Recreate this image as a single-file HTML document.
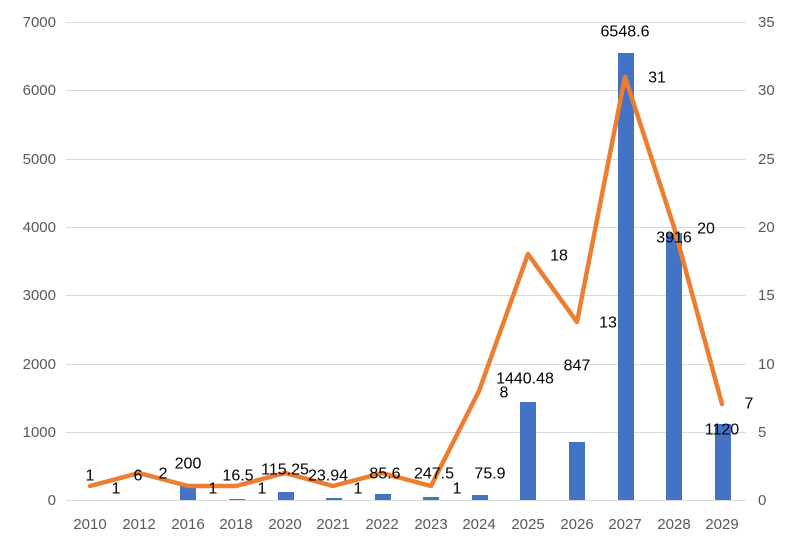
<!DOCTYPE html>
<html><head><meta charset="utf-8"><style>
body{margin:0;background:#fff}
svg text{font-family:"Liberation Sans",sans-serif}
</style></head><body>
<svg width="794" height="551" xmlns="http://www.w3.org/2000/svg">
<g stroke="#d9d9d9" stroke-width="1">
<line x1="66" x2="746" y1="500.5" y2="500.5"/>
<line x1="66" x2="746" y1="432.5" y2="432.5"/>
<line x1="66" x2="746" y1="364.5" y2="364.5"/>
<line x1="66" x2="746" y1="295.5" y2="295.5"/>
<line x1="66" x2="746" y1="227.5" y2="227.5"/>
<line x1="66" x2="746" y1="159.5" y2="159.5"/>
<line x1="66" x2="746" y1="90.5" y2="90.5"/>
<line x1="66" x2="746" y1="22.5" y2="22.5"/>
</g>
<g font-size="15" fill="#595959" text-anchor="end">
<text x="56" y="505">0</text><text x="56" y="437">1000</text><text x="56" y="369">2000</text><text x="56" y="300">3000</text><text x="56" y="232">4000</text><text x="56" y="164">5000</text><text x="56" y="95">6000</text><text x="56" y="27">7000</text>
</g>
<g font-size="15" fill="#595959" text-anchor="start">
<text x="758" y="505">0</text><text x="758" y="437">5</text><text x="758" y="369">10</text><text x="758" y="300">15</text><text x="758" y="232">20</text><text x="758" y="164">25</text><text x="758" y="95">30</text><text x="758" y="27">35</text>
</g>
<g fill="#4472C4">
<rect x="180" y="486" width="16" height="14"/>
<rect x="229" y="499" width="16" height="1"/>
<rect x="278" y="492" width="16" height="8"/>
<rect x="326" y="498" width="16" height="2"/>
<rect x="375" y="494" width="16" height="6"/>
<rect x="423" y="497" width="16" height="3"/>
<rect x="472" y="495" width="16" height="5"/>
<rect x="520" y="402" width="16" height="98"/>
<rect x="569" y="442" width="16" height="58"/>
<rect x="618" y="53" width="16" height="447"/>
<rect x="666" y="233" width="16" height="267"/>
<rect x="715" y="424" width="16" height="76"/>
</g>
<polyline fill="none" stroke="#ED7D31" stroke-width="4.5" stroke-linejoin="round" stroke-linecap="round"
points="90,486 139,473 188,486 236,486 285,473 333,486 382,473 431,486 479,391 528,254 577,322 625,77 674,227 722,404"/>
<g font-size="16" fill="#000" text-anchor="middle" dominant-baseline="central">
<text x="90" y="476">1</text><text x="116" y="489">1</text><text x="138" y="476">6</text><text x="163" y="474">2</text>
<text x="188" y="464">200</text><text x="213" y="489">1</text><text x="238" y="476">16.5</text><text x="262" y="489">1</text>
<text x="285" y="470">115.25</text><text x="328" y="476">23.94</text><text x="358" y="489">1</text><text x="385" y="474">85.6</text>
<text x="434" y="474">247.5</text><text x="457" y="489">1</text><text x="490" y="474">75.9</text><text x="504" y="393">8</text>
<text x="525" y="379">1440.48</text><text x="559" y="256">18</text><text x="577" y="366">847</text><text x="608" y="323">13</text>
<text x="625" y="32">6548.6</text><text x="657" y="78">31</text><text x="674" y="238">3916</text><text x="706" y="229">20</text>
<text x="722" y="430">1120</text><text x="749" y="404">7</text>
</g>
<g font-size="15" fill="#595959" text-anchor="middle">
<text x="90" y="529">2010</text><text x="139" y="529">2012</text><text x="188" y="529">2016</text><text x="236" y="529">2018</text><text x="285" y="529">2020</text><text x="333" y="529">2021</text><text x="382" y="529">2022</text><text x="431" y="529">2023</text><text x="479" y="529">2024</text><text x="528" y="529">2025</text><text x="577" y="529">2026</text><text x="625" y="529">2027</text><text x="674" y="529">2028</text><text x="722" y="529">2029</text>
</g>
</svg>
</body></html>
